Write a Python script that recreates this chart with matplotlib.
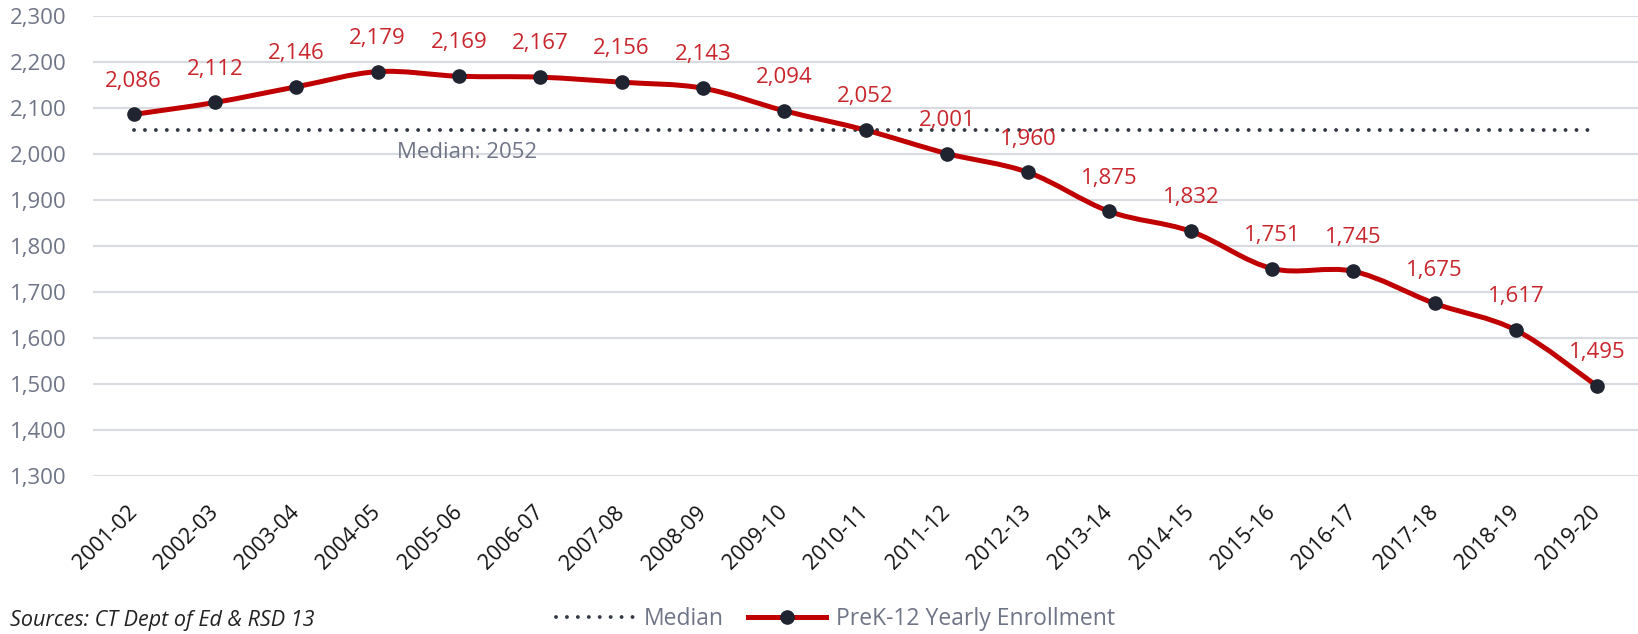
import numpy as np
import matplotlib
matplotlib.use("Agg")
import matplotlib.pyplot as plt
from matplotlib.path import Path
from matplotlib.patches import PathPatch
from matplotlib.lines import Line2D

plt.rcParams['font.family'] = ['Open Sans', 'DejaVu Sans']

years = ["2001-02", "2002-03", "2003-04", "2004-05", "2005-06", "2006-07",
         "2007-08", "2008-09", "2009-10", "2010-11", "2011-12", "2012-13",
         "2013-14", "2014-15", "2015-16", "2016-17", "2017-18", "2018-19",
         "2019-20"]
enrollment = [2086, 2112, 2146, 2179, 2169, 2167, 2156, 2143, 2094, 2052,
              2001, 1960, 1875, 1832, 1751, 1745, 1675, 1617, 1495]
median_value = 2052
y_ticks = list(range(1300, 2301, 100))

RED = "#c00000"
LABEL_RED = "#c8262c"
DOT = "#1f2430"
GRAY = "#6f7587"

x = np.arange(len(years))
y = np.array(enrollment, dtype=float)

fig = plt.figure(figsize=(16.38, 6.34), dpi=100)
ax = fig.add_axes([0.0568, 0.2492, 0.9432, 0.7256])

# smoothed line (catmull-rom as bezier segments), like the spreadsheet's smooth line
verts = [(x[0], y[0])]
codes = [Path.MOVETO]
n = len(x)
for i in range(n - 1):
    p0 = np.array([x[max(i - 1, 0)], y[max(i - 1, 0)]])
    p1 = np.array([x[i], y[i]])
    p2 = np.array([x[i + 1], y[i + 1]])
    p3 = np.array([x[min(i + 2, n - 1)], y[min(i + 2, n - 1)]])
    c1 = p1 + (p2 - p0) / 6
    c2 = p2 - (p3 - p1) / 6
    verts += [tuple(c1), tuple(c2), tuple(p2)]
    codes += [Path.CURVE4] * 3
ax.add_patch(PathPatch(Path(verts, codes), facecolor="none", edgecolor=RED,
                       lw=3.6, capstyle="round", joinstyle="round", zorder=3))
ax.plot(x, y, linestyle="none", marker="o", markersize=9.5, color=DOT, zorder=4)

# median
ax.plot([x[0], x[-1]], [median_value, median_value], color="#333845",
        lw=2.8, linestyle=(0, (0.01, 2.8)), dash_capstyle="round", zorder=2)
ax.annotate(f"Median: {median_value}", xy=(4.1, median_value), xytext=(0, -16.5),
            textcoords="offset points", ha="center", va="center",
            color=GRAY, fontsize=16)

for xi, yi in zip(x, enrollment):
    ax.annotate(f"{yi:,}", xy=(xi, yi), xytext=(0, 24), textcoords="offset points",
                ha="center", va="center", color=LABEL_RED, fontsize=16)

ax.set_xlim(-0.5, len(years) - 0.5)
ax.set_ylim(1300, 2300)
ax.set_yticks(y_ticks)
ax.set_yticklabels([f"{v:,}" for v in y_ticks])
ax.set_xticks(x)
ax.set_xticklabels(years, rotation=45, ha="right", va="center",
                   rotation_mode="anchor")
ax.tick_params(axis="y", length=0, pad=19, labelsize=16, labelcolor=GRAY)
ax.tick_params(axis="x", length=0, pad=24, labelsize=15.5, labelcolor="#111111")
ax.grid(axis="y", color="#d9dbe1", lw=1.6)
ax.set_axisbelow(True)
for s in ax.spines.values():
    s.set_visible(False)

fig.text(0.006, 0.022, "Sources: CT Dept of Ed & RSD 13", style="italic",
         color="#222222", fontsize=15.5, va="center")

handles = [
    Line2D([], [], color="#333845", lw=2.8, linestyle=(0, (0.01, 2.8)),
           dash_capstyle="round"),
    Line2D([], [], color=RED, lw=3.6, marker="o", markersize=9.5,
           markerfacecolor=DOT, markeredgecolor=DOT),
]
leg = fig.legend(handles, ["Median", "PreK-12 Yearly Enrollment"], ncol=2,
                 loc="center", bbox_to_anchor=(0.51, 0.024), frameon=False,
                 fontsize=16.5, handlelength=3.4, columnspacing=1.1,
                 handletextpad=0.4)
for t in leg.get_texts():
    t.set_color(GRAY)

fig.savefig("out.png", dpi=100)
